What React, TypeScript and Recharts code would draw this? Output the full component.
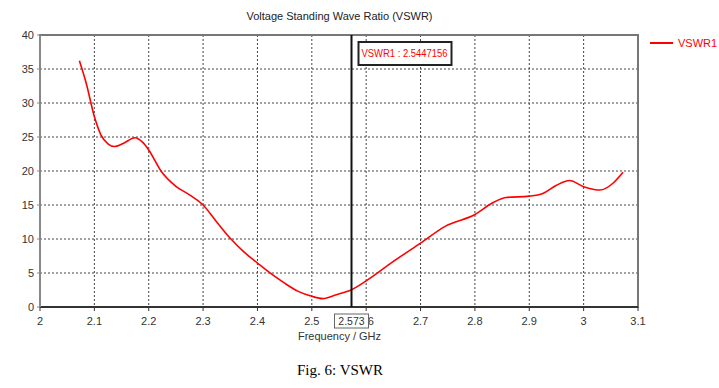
import { LineChart, Line, XAxis, YAxis, CartesianGrid, ReferenceLine, ReferenceArea } from 'recharts'

// frequency (GHz) and VSWR
const FREQ = [
    2.0725, 2.085, 2.1, 2.112, 2.125, 2.137, 2.152, 2.175, 2.189, 2.2, 2.2225, 2.25, 2.275, 2.3, 2.325, 2.35, 2.375,
    2.4, 2.425, 2.45, 2.475, 2.5, 2.52, 2.545, 2.573, 2.6, 2.65, 2.7, 2.746, 2.8, 2.832, 2.857, 2.9, 2.925, 2.95,
    2.974, 3.0, 3.03, 3.054, 3.0725,
]
const VSWR = [
    36.2, 32.9, 28.0, 25.3, 24.0, 23.6, 24.0, 24.9, 24.2, 23.1, 20.0, 17.75, 16.5, 15.0, 12.5, 10.1, 8.1, 6.47,
    4.9, 3.5, 2.3, 1.57, 1.23, 1.8, 2.54, 3.85, 6.7, 9.4, 11.9, 13.6, 15.3, 16.1, 16.3, 16.7, 17.9, 18.6, 17.7, 17.2,
    18.2, 19.8,
]

const X_TICKS = [2, 2.1, 2.2, 2.3, 2.4, 2.5, 2.6, 2.7, 2.8, 2.9, 3, 3.1]
const Y_TICKS = [0, 5, 10, 15, 20, 25, 30, 35, 40]

const MARKER_FREQ = 2.573
const MARKER_VALUE = 2.5447156
const SERIES_NAME = 'VSWR1'

const data = FREQ.map((f, i) => ({ f, v: VSWR[i] }))

const FONT = '"Liberation Sans", Arial, sans-serif'
const RED = '#ff0000'

function MarkerLabel(props: any) {
    const vb = props.viewBox || {}
    const x = vb.x
    const top = vb.y
    const bottom = vb.y + vb.height
    return (
        <g>
            <rect x={x + 7} y={top + 7} width={93} height={23} fill="#fff" stroke="#222" strokeWidth={2} />
            <text x={x + 10} y={top + 22} fill={RED} fontSize={11} fontFamily={FONT} textLength={86} lengthAdjust="spacingAndGlyphs">
                {`${SERIES_NAME} : ${MARKER_VALUE}`}
            </text>
            <rect x={x - 17} y={bottom + 7} width={34} height={14} fill="#fff" stroke="#666" strokeWidth={1} />
            <text x={x} y={bottom + 18} fill="#333" fontSize={10.5} fontFamily={FONT} textAnchor="middle">
                {MARKER_FREQ}
            </text>
        </g>
    )
}

export default function App() {
    return (
        <div style={{ position: 'absolute', left: 0, top: 0, width: 719, height: 388, background: '#fff', fontFamily: FONT }}>
            <div style={{ position: 'absolute', left: 0, width: 679, top: 10, textAlign: 'center', fontSize: 11, color: '#222' }}>
                Voltage Standing Wave Ratio (VSWR)
            </div>

            <LineChart width={719} height={388} data={data} margin={{ top: 35, right: 81, left: 0, bottom: 51 }}>
                <CartesianGrid stroke="#444" strokeDasharray="2 2" />
                <XAxis
                    dataKey="f"
                    type="number"
                    domain={[2, 3.1]}
                    ticks={X_TICKS}
                    tickFormatter={(v) => String(v)}
                    tickSize={4}
                    tickMargin={6}
                    height={30}
                    tick={{ fontSize: 11, fill: '#333', fontFamily: FONT }}
                    axisLine={{ stroke: '#333', strokeWidth: 2 }}
                    tickLine={{ stroke: '#333' }}
                    allowDataOverflow
                />
                <YAxis
                    type="number"
                    domain={[0, 40]}
                    ticks={Y_TICKS}
                    width={40}
                    tickSize={3}
                    tickMargin={3}
                    tick={{ fontSize: 11, fill: '#333', fontFamily: FONT }}
                    axisLine={{ stroke: '#888', strokeWidth: 2 }}
                    tickLine={{ stroke: '#888' }}
                    allowDataOverflow
                />
                <ReferenceArea x1={2} x2={3.1} y1={0} y2={40} fill="none" stroke="#777" strokeWidth={2} />
                <Line
                    dataKey="v"
                    type="monotone"
                    stroke={RED}
                    strokeWidth={1.6}
                    dot={false}
                    isAnimationActive={false}
                />
                <ReferenceLine
                    x={MARKER_FREQ}
                    stroke="#111"
                    strokeWidth={2}
                    label={<MarkerLabel />}
                    {...({ zIndex: 2000 } as any)}
                />
            </LineChart>

            <div style={{ position: 'absolute', left: 650, top: 37, display: 'flex', alignItems: 'center', fontSize: 11, color: RED }}>
                <span style={{ display: 'inline-block', width: 23, height: 0, borderTop: `2px solid ${RED}`, marginRight: 5 }} />
                {SERIES_NAME}
            </div>

            <div style={{ position: 'absolute', left: 0, width: 679, top: 330, textAlign: 'center', fontSize: 11, color: '#333' }}>
                Frequency / GHz
            </div>

            <div style={{ position: 'absolute', left: 0, width: 680, top: 362, textAlign: 'center', fontSize: 15, fontFamily: '"Liberation Serif", "Times New Roman", serif', color: '#000' }}>
                Fig. 6: VSWR
            </div>
        </div>
    )
}
